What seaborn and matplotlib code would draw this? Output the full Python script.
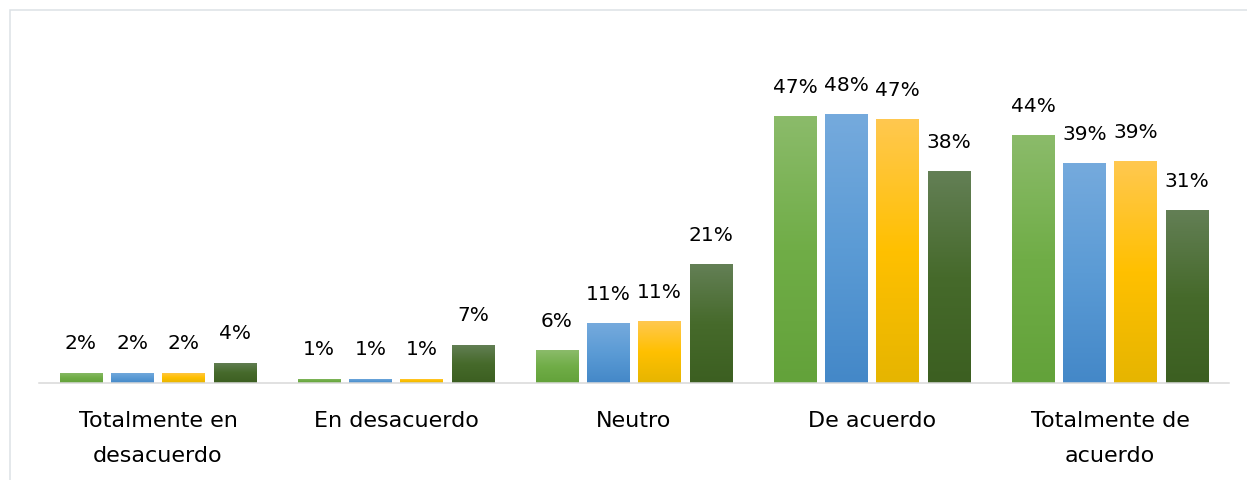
import numpy as np
import pandas as pd
import matplotlib.pyplot as plt
import matplotlib.colors as mcolors
from matplotlib.patches import Rectangle
import seaborn as sns

# Data (percent)
categories = ["Totalmente en\ndesacuerdo", "En desacuerdo", "Neutro", "De acuerdo", "Totalmente de\nacuerdo"]
series_names = ["Serie 1", "Serie 2", "Serie 3", "Serie 4"]
serie_1 = [1.8, 0.8, 5.8, 47.4, 44.1]
serie_2 = [1.8, 0.8, 10.6, 47.8, 39.1]
serie_3 = [1.8, 0.8, 11.0, 46.9, 39.4]
serie_4 = [3.6, 6.8, 21.1, 37.7, 30.7]

# gradient colours per series: top, middle, bottom
base_colors = ["#70AD47", "#5B9BD5", "#FFC000", "#486C2C"]
grad_colors = [
    ["#8BBB6A", "#70AD47", "#63A23A"],
    ["#75AADD", "#5B9BD5", "#4488C8"],
    ["#FFC84F", "#FFC000", "#E6B500"],
    ["#637F55", "#466A2B", "#3C5F21"],
]

rows = []
for name, vals in zip(series_names, [serie_1, serie_2, serie_3, serie_4]):
    for cat, v in zip(categories, vals):
        rows.append({"categoria": cat, "serie": name, "valor": v})
df = pd.DataFrame(rows)

sns.set_style("white")
plt.rcParams["font.family"] = ["DejaVu Sans"]

fig = plt.figure(figsize=(12.47, 4.8), dpi=100)
ax = fig.add_axes([39 / 1247, 1 - 383 / 480, 1190 / 1247, 343 / 480])

sns.barplot(data=df, x="categoria", y="valor", hue="serie", palette=base_colors,
            width=0.863, gap=0.166, legend=False, ax=ax, saturation=1)

# vertical gradient fill clipped to each bar
for cont, cols in zip(ax.containers, grad_colors):
    cmap = mcolors.LinearSegmentedColormap.from_list("g", cols[::-1])
    grad = np.linspace(0, 1, 100).reshape(-1, 1)
    for bar in cont:
        x0, y0 = bar.get_x(), bar.get_y()
        w, h = bar.get_width(), bar.get_height()
        im = ax.imshow(grad, extent=[x0, x0 + w, y0, y0 + h], origin="lower",
                       aspect="auto", cmap=cmap, zorder=bar.get_zorder() + 0.1)
        im.set_clip_path(bar)
    labels = [f"{round(b.get_height())}%" for b in cont]
    ax.bar_label(cont, labels=labels, padding=14, fontsize=14.5, color="#000000")

ax.set_xlim(-0.5, 4.5)
ax.set_ylim(0, 61.0)
ax.set_xlabel("")
ax.set_ylabel("")
ax.set_yticks([])
ax.set_xticks(range(len(categories)))
ax.set_xticklabels(categories, linespacing=1.95)
ax.tick_params(axis="x", length=0, pad=20, labelsize=16, colors="#000000")
for side in ["top", "right", "left"]:
    ax.spines[side].set_visible(False)
ax.spines["bottom"].set_color("#D9D9D9")
ax.spines["bottom"].set_linewidth(1.1)

# chart area border
fig.patches.append(Rectangle((10 / 1247, -0.1), 1.2, 1.1 - 10 / 480,
                             transform=fig.transFigure, fill=False,
                             edgecolor="#DDE1E6", linewidth=1.1))

fig.savefig("out.png", dpi=100)
